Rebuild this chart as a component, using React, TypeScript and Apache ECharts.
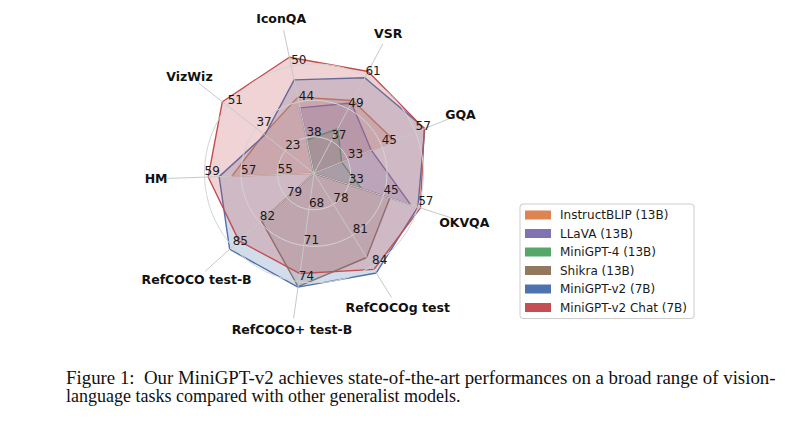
import React, { useEffect, useRef } from "react";
import * as echarts from "echarts";

// Radar axes (in drawing order, counter-clockwise from GQA)
const axes = ["GQA", "VSR", "IconQA", "VizWiz", "HM", "RefCOCO test-B", "RefCOCO+ test-B", "RefCOCOg test", "OKVQA"];
// value at the centre of each axis and the value step between grid circles
const axisMin = [21, 25, 32, 9, 53, 76, 65, 75, 21];
const axisStep = [12, 12, 6, 14, 2, 3, 3, 3, 12];

const models = [
  "InstructBLIP (13B)",
  "LLaVA (13B)",
  "MiniGPT-4 (13B)",
  "Shikra (13B)",
  "MiniGPT-v2 (7B)",
  "MiniGPT-v2 Chat (7B)",
];
const colors = ["#DD8452", "#8172B3", "#55A868", "#937860", "#4C72B0", "#C44E52"];

// null = not reported (drawn at the centre of the axis)
const instructBLIP = [49.5, 52.1, 44.8, 33.4, 57.5, null, null, null, null];
const llava = [41.3, 51.2, 43.0, null, null, null, null, null, 54.4];
const minigpt4 = [30.8, 41.6, 37.6, null, null, null, null, null, 37.5];
const shikra = [null, null, null, null, null, 81.81, 74.41, 83.16, 47.2];
const minigptv2 = [60.3, 60.6, 47.7, 32.9, 58.2, 85.33, 74.45, 84.66, 56.9];
const minigptv2Chat = [60.1, 62.9, 51.5, 53.6, 58.8, 84.3, 73.32, 84.31, 57.8];

const caption1 = "Figure 1:  Our MiniGPT-v2 achieves state-of-the-art performances on a broad range of vision-";
const caption2 = "language tasks compared with other generalist models.";

export default function App() {
  const ref = useRef<HTMLDivElement>(null);

  useEffect(() => {
    if (!ref.current) return;
    const chart = echarts.init(ref.current, null, { renderer: "svg" });

    const series = [instructBLIP, llava, minigpt4, shikra, minigptv2, minigptv2Chat];

    // stretch first caption line to the justified width
    const capFont = 18;
    let scale1 = 1;
    try {
      const ctx = document.createElement("canvas").getContext("2d");
      if (ctx) {
        ctx.font = `${capFont}px "Liberation Serif"`;
        const w = ctx.measureText(caption1).width;
        if (w > 0) scale1 = 710 / w;
      }
    } catch (e) {}

    const option: any = {
      animation: false,
      backgroundColor: "#ffffff",
      color: colors,
      legend: {
        orient: "vertical",
        left: 520,
        top: 204,
        data: models,
        icon: "rect",
        itemWidth: 26,
        itemHeight: 9,
        itemGap: 6.5,
        selectedMode: false,
        borderColor: "#cccccc",
        borderWidth: 1,
        borderRadius: 3,
        padding: [5, 7, 5, 5],
        textStyle: {
          fontFamily: "DejaVu Sans",
          fontSize: 12,
          color: "#1a1a1a",
          padding: [0, 0, 0, 4],
        },
      },
      radar: {
        center: [314, 173.3],
        radius: 146,
        startAngle: 22,
        splitNumber: 4,
        shape: "circle",
        z: 3,
        indicator: axes.map((name, i) => ({
          name,
          min: axisMin[i],
          max: axisMin[i] + 4 * axisStep[i],
        })),
        nameGap: 12,
        axisName: {
          color: "#111",
          fontFamily: "DejaVu Sans",
          fontWeight: "bold",
          fontSize: 12.5,
          align: "center",
          verticalAlign: "middle",
        },
        splitLine: {
          lineStyle: {
            color: ["rgba(0,0,0,0)", "#d4d4d4", "#d4d4d4", "#d4d4d4", "rgba(0,0,0,0)"],
            width: 1,
          },
        },
        splitArea: { show: false },
        axisLine: { lineStyle: { color: "#c8c8c8", width: 1 } },
        axisTick: { show: false },
        axisLabel: {
          show: true,
          showMinLabel: false,
          showMaxLabel: false,
          margin: 0,
          align: "left",
          verticalAlign: "bottom",
          color: "#1a1a1a",
          fontFamily: "DejaVu Sans",
          fontSize: 12,
        },
      },
      series: [
        {
          type: "radar",
          symbol: "none",
          z: 2,
          data: series.map((vals, k) => ({
            name: models[k],
            value: vals.map((v, i) => (v == null ? axisMin[i] : v)),
            lineStyle: { color: colors[k], width: 1.4 },
            areaStyle: { color: colors[k], opacity: 0.25 },
            itemStyle: { color: colors[k] },
          })),
        },
      ],
      graphic: [
        {
          type: "text",
          x: 66,
          y: 378,
          scaleX: scale1,
          style: {
            text: caption1,
            fontFamily: "Liberation Serif",
            fontSize: capFont,
            fill: "#111",
            align: "left",
            verticalAlign: "middle",
          },
        },
        {
          type: "text",
          x: 66,
          y: 396,
          style: {
            text: caption2,
            fontFamily: "Liberation Serif",
            fontSize: capFont,
            fill: "#111",
            align: "left",
            verticalAlign: "middle",
          },
        },
      ],
    };

    chart.setOption(option);
    return () => chart.dispose();
  }, []);

  return (
    <div
      ref={ref}
      style={{ position: "fixed", left: 0, top: 0, width: 800, height: 427, background: "#fff" }}
    />
  );
}
